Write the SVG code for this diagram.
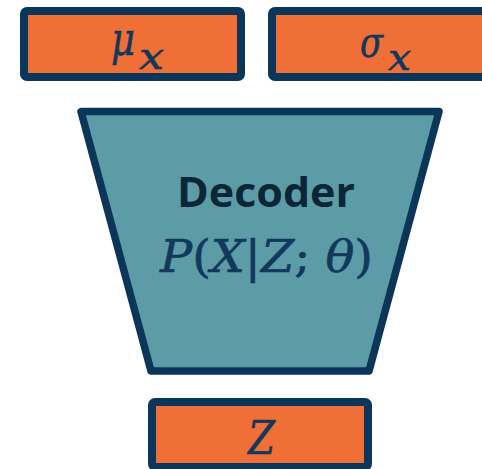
<svg xmlns="http://www.w3.org/2000/svg" width="482" height="469" viewBox="0 0 482 469">
  <style>
    .box { fill: #EF6F36; stroke: #0B3559; stroke-width: 8; stroke-linejoin: round; }
    .dec { fill: #5B9CA6; stroke: #0B3559; stroke-width: 7.5; stroke-linejoin: round; }
    .math { font-family: "DejaVu Serif", "Liberation Serif", serif; font-style: italic; fill: #12385C; stroke: #12385C; stroke-width: 0.6; }
    .up { font-style: normal; }
    .title { font-family: "Open Sans", "Liberation Sans", sans-serif; font-weight: bold; fill: #0C2638; }
  </style>
  <rect width="482" height="469" fill="#FFFFFF"/>
  <g id="mu">
    <rect class="box" x="24" y="11" width="217" height="66" rx="3"/>
    <text class="math" x="111" y="55" font-size="46" textLength="24" lengthAdjust="spacingAndGlyphs">μ</text>
    <text class="math" x="139" y="69" font-size="38" textLength="25" lengthAdjust="spacingAndGlyphs">x</text>
  </g>
  <g id="sigma">
    <rect class="box" x="272" y="11" width="222" height="66" rx="3"/>
    <text class="math" x="360" y="57" font-size="42" textLength="23" lengthAdjust="spacingAndGlyphs">σ</text>
    <text class="math" x="388" y="70" font-size="38" textLength="23" lengthAdjust="spacingAndGlyphs">x</text>
  </g>
  <g id="decoder">
    <polygon class="dec" points="81,111.5 439,111.5 369,371 151,371"/>
    <text class="title" x="177" y="207" font-size="42" textLength="178" lengthAdjust="spacingAndGlyphs">Decoder</text>
    <text class="math" x="160" y="272" font-size="44" textLength="213" lengthAdjust="spacingAndGlyphs">P<tspan class="up">(</tspan>X<tspan class="up">|</tspan>Z<tspan class="up">;</tspan> θ<tspan class="up">)</tspan></text>
  </g>
  <g id="z">
    <rect class="box" x="152" y="402" width="216" height="65" rx="3"/>
    <text class="math" x="248" y="454" font-size="46" textLength="27" lengthAdjust="spacingAndGlyphs">Z</text>
  </g>
  <g id="connectors"/>
</svg>
